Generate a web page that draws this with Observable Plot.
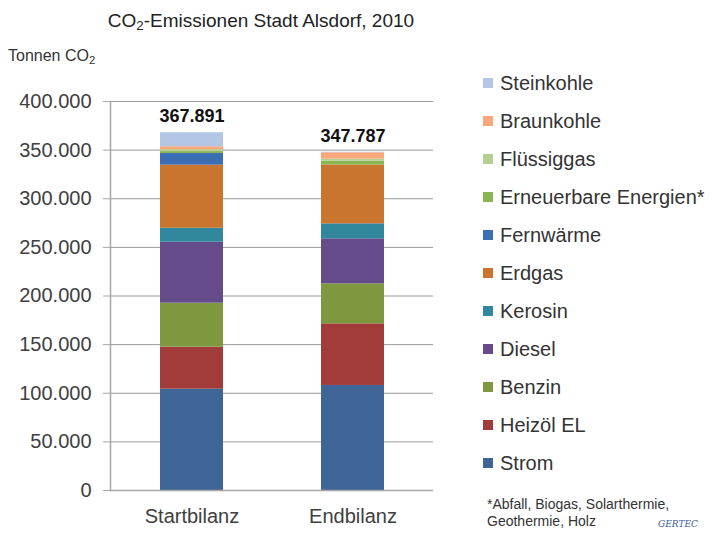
<!DOCTYPE html>
<html>
<head>
<meta charset="utf-8">
<script src="https://cdn.jsdelivr.net/npm/d3@7"></script>
<script src="https://cdn.jsdelivr.net/npm/@observablehq/plot@0.6"></script>
<style>
  html, body { margin: 0; padding: 0; background: #fff; }
  #wrap { position: relative; width: 712px; height: 537px; font-family: "Liberation Sans", Arial, sans-serif; color: #404040; overflow: hidden; }
  #wrap svg { position: absolute; left: 0; top: 0; }
  .title { position: absolute; left: 0; width: 522px; top: 11px; text-align: center; font-size: 19px; line-height: 19px; color: #222; }
  .unit { position: absolute; left: 8px; top: 48px; font-size: 16px; line-height: 16px; color: #333; }
  sub { font-size: 0.7em; vertical-align: -0.25em; line-height: 0; }
  .leg { position: absolute; left: 483px; font-size: 20px; line-height: 20px; color: #333; white-space: nowrap; }
  .leg .sw { position: absolute; left: 0; top: 5px; width: 10px; height: 10px; }
  .leg .tx { position: absolute; left: 17px; top: 0; }
  .foot { position: absolute; left: 487px; top: 496px; font-size: 14px; line-height: 17px; color: #333; white-space: nowrap; }
  .logo { position: absolute; left: 658px; top: 519px; font-size: 9px; font-style: italic; font-family: "DejaVu Serif", serif; color: #3a5a9a; }
</style>
</head>
<body>
<div id="wrap"></div>
<script>
// Categories (bars)
const categories = ["Startbilanz", "Endbilanz"];
// Series, bottom to top of the stack
const series = ["Strom", "Heizöl EL", "Benzin", "Diesel", "Kerosin", "Erdgas", "Fernwärme", "Erneuerbare Energien*", "Flüssiggas", "Braunkohle", "Steinkohle"];
const colors = ["#3e6596", "#a23c3a", "#7d983e", "#654b8a", "#31879b", "#c9752f", "#3c6eb3", "#8ab550", "#b4d090", "#f9a77b", "#b3c6e5"];
// Values in tonnes CO2, same order as series
const startValues = [104200, 43200, 45200, 62700, 14400, 64800, 12000, 2000, 2000, 3000, 14391];
const endValues   = [108000, 63400, 41100, 46300, 15400, 60500, 0, 4000, 2000, 6587, 500];
// Totals as labelled
const totals = [367891, 347787];
const totalLabels = ["367.891", "347.787"];
// Y ticks
const yTicks = [0, 50000, 100000, 150000, 200000, 250000, 300000, 350000, 400000];
// Legend order (top to bottom)
const legendOrder = ["Steinkohle", "Braunkohle", "Flüssiggas", "Erneuerbare Energien*", "Fernwärme", "Erdgas", "Kerosin", "Diesel", "Benzin", "Heizöl EL", "Strom"];

const data = [];
[startValues, endValues].forEach((vals, ci) => {
  vals.forEach((v, si) => data.push({cat: categories[ci], series: series[si], value: v}));
});
const totalData = categories.map((c, i) => ({cat: c, total: totals[i], label: totalLabels[i]}));

const de = d3.formatLocale({decimal: ",", thousands: ".", grouping: [3], currency: ["", " €"]});
const fmt = de.format(",d");

const chart = Plot.plot({
  width: 712,
  height: 537,
  marginLeft: 110,
  marginRight: 279,
  marginTop: 101,
  marginBottom: 47,
  style: {fontFamily: "Liberation Sans, Arial, sans-serif", fontSize: "20px", color: "#404040", background: "transparent"},
  x: {domain: categories, padding: 0, label: null},
  y: {domain: [0, 400000], label: null},
  color: {domain: series, range: colors},
  marks: [
    Plot.gridY(yTicks, {stroke: "#9a9a9a", strokeOpacity: 1}),
    Plot.barY(data, Plot.stackY({x: "cat", y: "value", fill: "series", insetLeft: 49, insetRight: 49})),
    Plot.ruleY([0], {stroke: "#a6a6a6", strokeWidth: 1.5}),
    Plot.frame({anchor: "left", stroke: "#a6a6a6", strokeWidth: 1.5}),
    Plot.axisY({ticks: yTicks, tickFormat: fmt, tickSize: 7, tickPadding: 12, fontSize: 20, stroke: "#a6a6a6", label: null}),
    Plot.axisX({tickSize: 0, tickPadding: 18, fontSize: 20, label: null}),
    Plot.text(totalData, {x: "cat", y: "total", text: "label", dy: -16, fontSize: 18, fontWeight: "bold", fill: "#111"})
  ]
});

const wrap = document.getElementById("wrap");
wrap.appendChild(chart);

const title = document.createElement("div");
title.className = "title";
title.innerHTML = "CO<sub>2</sub>-Emissionen Stadt Alsdorf, 2010";
wrap.appendChild(title);

const unit = document.createElement("div");
unit.className = "unit";
unit.innerHTML = "Tonnen CO<sub>2</sub>";
wrap.appendChild(unit);

legendOrder.forEach((name, i) => {
  const item = document.createElement("div");
  item.className = "leg";
  item.style.top = (73 + 38 * i) + "px";
  const sw = document.createElement("span");
  sw.className = "sw";
  sw.style.background = colors[series.indexOf(name)];
  const tx = document.createElement("span");
  tx.className = "tx";
  tx.textContent = name;
  item.appendChild(sw);
  item.appendChild(tx);
  wrap.appendChild(item);
});

const foot = document.createElement("div");
foot.className = "foot";
foot.innerHTML = "*Abfall, Biogas, Solarthermie,<br>Geothermie, Holz";
wrap.appendChild(foot);

const logo = document.createElement("div");
logo.className = "logo";
logo.textContent = "GERTEC";
wrap.appendChild(logo);
</script>
</body>
</html>
